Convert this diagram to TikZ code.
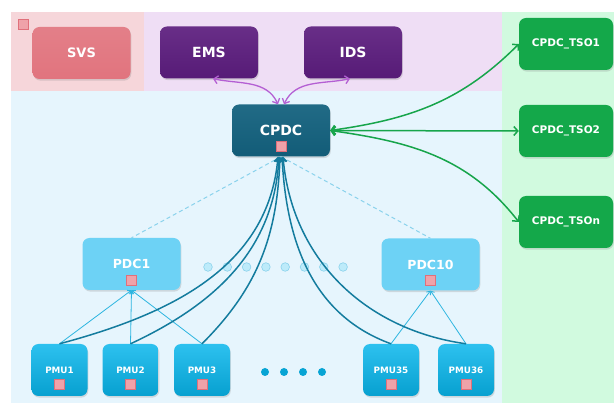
\documentclass[tikz,border=0pt]{standalone}
\usepackage{fontspec}
\setmainfont{DejaVu Sans}
\usetikzlibrary{arrows.meta,shadows}

\definecolor{zonepink}{HTML}{F6D6DA}
\definecolor{zonelav}{HTML}{EFDEF5}
\definecolor{zoneblue}{HTML}{E6F5FD}
\definecolor{zonegreen}{HTML}{D1FADF}
\definecolor{svsred}{HTML}{E1747E}
\definecolor{mgmtpurple}{HTML}{5B1C7D}
\definecolor{cpdcteal}{HTML}{13617E}
\definecolor{tsogreen}{HTML}{14A84A}
\definecolor{pdcblue}{HTML}{6DD2F5}
\definecolor{pmublue}{HTML}{08B6EC}
\definecolor{sqpink}{HTML}{EFA2A9}
\definecolor{sqedge}{HTML}{E0707B}
\definecolor{arrowpurple}{HTML}{B45FD3}
\definecolor{arrowgreen}{HTML}{17A54B}
\definecolor{linkteal}{HTML}{147C9E}
\definecolor{feedblue}{HTML}{2CB5E0}
\definecolor{dashblue}{HTML}{8AD2EC}

\begin{document}
\begin{tikzpicture}[x=1pt, y=-1pt,
  box/.style={rounded corners=7pt, text=white, inner sep=0pt,
    minimum width=98pt, minimum height=52pt,
    drop shadow={opacity=0.25, shadow xshift=0.8pt, shadow yshift=-1.6pt}},
  svsbox/.style={box, top color=svsred!92!white, bottom color=svsred,
    font=\fontsize{13}{15}\selectfont\bfseries},
  mgmtbox/.style={box, top color=mgmtpurple!92!white, bottom color=mgmtpurple!95!black,
    font=\fontsize{14}{16}\selectfont\bfseries},
  cpdcbox/.style={box, top color=cpdcteal!94!white, bottom color=cpdcteal!95!black,
    font=\fontsize{14}{16}\selectfont\bfseries},
  tsobox/.style={box, minimum width=94pt, fill=tsogreen,
    font=\fontsize{10.5}{12}\selectfont\bfseries},
  pdcbox/.style={box, fill=pdcblue, font=\fontsize{12.5}{14}\selectfont\bfseries},
  pmubox/.style={box, minimum width=56pt, top color=pmublue!85!white, bottom color=pmublue!88!black,
    font=\fontsize{8.8}{10}\selectfont\bfseries},
  sq/.style={draw=sqedge, fill=sqpink, line width=0.8pt, minimum size=10pt, inner sep=0pt},
  mgmt/.style={arrowpurple, line width=1.3pt, {Straight Barb[length=4pt,width=8pt]}-{Straight Barb[length=4pt,width=8pt]}},
  ctrl/.style={arrowgreen, line width=1.5pt, {Straight Barb[length=4pt,width=9pt]}-{Straight Barb[length=4pt,width=9pt]}},
  link/.style={linkteal, line width=1.5pt, -{Straight Barb[length=4pt,width=7pt]}},
  feed/.style={feedblue, line width=0.8pt, -{Straight Barb[length=3pt,width=5pt]}},
  dashlink/.style={dashblue, line width=1pt, dash pattern=on 4pt off 3pt}]

\useasboundingbox (0,0) rectangle (614,403);

% Zones in the background
\fill[zonepink] (11,12) rectangle (144,91);
\fill[zonelav] (144,12) rectangle (502,91);
\fill[zoneblue] (11,91) rectangle (502,403);
\fill[zonegreen] (502,12) rectangle (614,403);

% Top row
\node[sq] (svsmark) at (23,24) {};
\node[svsbox] (svs) at (81.5,53) {SVS};
\node[mgmtbox] (ems) at (209,52.5) {EMS};
\node[mgmtbox] (ids) at (353,52.5) {IDS};

% Central PDC
\node[cpdcbox] (cpdc) at (281,130.5) {CPDC};
\node[sq] (cpdcmark) at ([yshift=-16pt]cpdc.center) {};

% TSO side
\node[tsobox] (tso1) at (566,44) {CPDC\_TSO1};
\node[tsobox] (tso2) at (566,131) {CPDC\_TSO2};
\node[tsobox] (tson) at (566,222) {CPDC\_TSOn};

% Regional PDCs
\node[pdcbox] (pdc1) at (131.5,264) {PDC1};
\node[sq] (pdc1mark) at ([yshift=-16pt]pdc1.center) {};
\node[pdcbox] (pdc10) at (430.5,264.5) {PDC10};
\node[sq] (pdc10mark) at ([yshift=-16pt]pdc10.center) {};

% PMUs
\foreach \name/\lab/\x in {pmu1/PMU1/59.5, pmu2/PMU2/130.5, pmu3/PMU3/202,
                           pmu35/PMU35/391, pmu36/PMU36/466} {
  \node[pmubox] (\name) at (\x,370) {\lab};
  \node[sq] (\name mark) at ([yshift=-14pt]\name.center) {};
}

% Dots for the missing PDCs and PMUs
\foreach \i in {0,...,7}
  \draw[draw=dashblue, fill=pdcblue!45!white, line width=0.6pt] (208+\i*19.3,267) circle (4.3pt);
\foreach \x in {265,284,303,322}
  \fill[pmublue!90!black] (\x,372) circle (4pt);

% Dashed links CPDC - PDCs
\draw[dashlink] (cpdc.south) -- (pdc1.north);
\draw[dashlink] (cpdc.south) -- (pdc10.north);

% PMU to PDC
\foreach \p in {pmu1,pmu2,pmu3}
  \draw[feed] (\p.north) -- (pdc1.south);
\foreach \p in {pmu35,pmu36}
  \draw[feed] (\p.north) -- (pdc10.south);

% PMU straight to CPDC
\draw[link] (pmu1.north) to[out=15,in=-95] ([xshift=-3pt]cpdc.south);
\draw[link] (pmu2.north) to[out=25,in=-93] ([xshift=-2pt]cpdc.south);
\draw[link] (pmu3.north) to[out=45,in=-92] ([xshift=-1pt]cpdc.south);
\draw[link] (pmu35.north) to[out=160,in=-87] ([xshift=1pt]cpdc.south);
\draw[link] (pmu36.north) to[out=172,in=-85] ([xshift=2pt]cpdc.south);

% EMS / IDS
\draw[mgmt] ([xshift=-3pt]cpdc.north) to[out=115,in=-12] ([xshift=4pt]ems.south);
\draw[mgmt] ([xshift=3pt]cpdc.north) to[out=65,in=-168] ([xshift=-3pt]ids.south);

% TSO links
\draw[ctrl] (cpdc.east) to[out=8,in=225] (tso1.west);
\draw[ctrl] (cpdc.east) -- (tso2.west);
\draw[ctrl] (cpdc.east) to[out=-8,in=128] (tson.west);
\end{tikzpicture}
\end{document}
